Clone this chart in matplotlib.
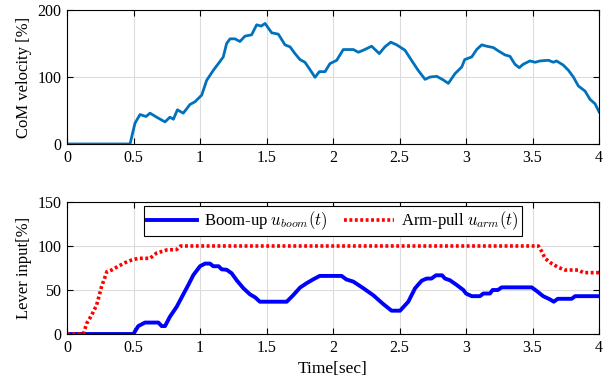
import numpy as np
import matplotlib
matplotlib.use('Agg')
import matplotlib.pyplot as plt

plt.rcParams['font.family'] = ['Liberation Serif', 'DejaVu Serif']
plt.rcParams['mathtext.fontset'] = 'cm'

# CoM velocity [%]
t_vel = [0.0, 0.474, 0.511, 0.549, 0.594, 0.624, 0.674, 0.737, 0.774, 0.80, 0.83, 0.874,
         0.925, 0.962, 1.013, 1.05, 1.10, 1.138, 1.175, 1.20, 1.226, 1.263, 1.30, 1.338,
         1.388, 1.426, 1.46, 1.489, 1.539, 1.589, 1.639, 1.677, 1.714, 1.752, 1.789, 1.827,
         1.865, 1.897, 1.94, 1.977, 2.028, 2.077, 2.153, 2.19, 2.228, 2.29, 2.348, 2.39,
         2.434, 2.479, 2.541, 2.59, 2.64, 2.692, 2.73, 2.78, 2.83, 2.867, 2.917, 2.968,
         2.99, 3.043, 3.08, 3.118, 3.155, 3.205, 3.243, 3.293, 3.33, 3.368, 3.40, 3.43,
         3.48, 3.52, 3.556, 3.62, 3.657, 3.68, 3.73, 3.77, 3.807, 3.845, 3.895, 3.932,
         3.97, 4.0]
vel = [0, 0, 31, 44, 41, 46, 40, 33, 40, 37, 51, 46,
       59, 63, 73, 95, 110, 120, 130, 150, 157, 157, 153, 161,
       163, 178, 176, 180, 166, 164, 148, 145, 135, 126, 122, 111,
       99.5, 108, 108, 120, 125, 141, 141, 137, 140, 146, 135, 145,
       152, 148, 140, 125, 110, 96.5, 100, 101, 95.5, 90.5, 105, 115,
       126, 130, 141, 148, 146, 144, 139, 133, 131, 119, 114, 119,
       124, 122, 124, 125, 122, 124, 118, 110, 100, 86.5, 79, 66.7,
       60, 48]

# Lever inputs [%]
t_boom = [0.0, 0.499, 0.536, 0.586, 0.687, 0.712, 0.737, 0.774, 0.825, 0.874, 0.912, 0.95,
          1.0, 1.038, 1.075, 1.10, 1.14, 1.163, 1.2, 1.238, 1.276, 1.326, 1.376, 1.414,
          1.45, 1.652, 1.70, 1.752, 1.80, 1.85, 1.90, 2.065, 2.10, 2.153, 2.228, 2.303,
          2.378, 2.44, 2.504, 2.566, 2.617, 2.667, 2.704, 2.74, 2.774, 2.82, 2.842, 2.88,
          2.93, 2.98, 3.0, 3.043, 3.105, 3.13, 3.18, 3.2, 3.24, 3.268, 3.494, 3.53,
          3.58, 3.63, 3.66, 3.69, 3.795, 3.82, 4.0]
boom = [0, 0, 9, 13, 13, 9, 9, 19.7, 31, 45, 55.7, 67,
        77, 80, 80, 77, 77, 73.5, 73, 69, 61, 52, 45, 41.7,
        36.7, 36.7, 44, 52.7, 57.6, 62, 66, 66, 62, 59.5, 52, 44,
        34, 26.5, 26.5, 36.7, 52, 60.6, 63, 63, 66.7, 66.7, 63, 61,
        55.7, 50, 46, 43, 43, 46, 46, 50, 50, 53, 53, 49,
        43, 39.4, 36.7, 40, 40, 43, 43]

t_arm = [0.0, 0.123, 0.148, 0.186, 0.223, 0.26, 0.30, 0.336, 0.386, 0.436, 0.486, 0.536,
         0.624, 0.674, 0.75, 0.825, 0.855, 3.544, 3.57, 3.594, 3.644, 3.694, 3.744, 3.845,
         3.882, 4.0]
arm = [0, 0, 12, 21.6, 33, 53.8, 70.8, 72.7, 77, 81, 84, 86,
       86, 92, 95.5, 96, 100, 100, 93.6, 86, 80, 75.7, 72.7, 72.7,
       69.7, 69.7]

xticks = [0, 0.5, 1, 1.5, 2, 2.5, 3, 3.5, 4]
xticklabels = ['0', '0.5', '1', '1.5', '2', '2.5', '3', '3.5', '4']

fig = plt.figure(figsize=(6.13, 3.86), dpi=100)
ax1 = fig.add_axes([0.1093, 0.627, 0.8679, 0.347])
ax2 = fig.add_axes([0.1093, 0.1347, 0.8679, 0.342])

ax1.plot(t_vel, vel, color='#0072BD', lw=2.0)
ax1.set_ylim(0, 200)
ax1.set_yticks([0, 100, 200])
ax1.set_ylabel('CoM velocity [%]', fontsize=12)

ax2.plot(t_boom, boom, color='#0000FF', lw=2.8, label=r'Boom-up $u_{boom}(t)$')
ax2.plot(t_arm, arm, color='#FF0000', lw=2.6, ls=(0, (0.8, 0.7)),
         label=r'Arm-pull $u_{arm}(t)$')
ax2.set_ylim(0, 150)
ax2.set_yticks([0, 50, 100, 150])
ax2.set_ylabel('Lever input[%]', fontsize=12)
ax2.set_xlabel('Time[sec]', fontsize=12.5, labelpad=4)
leg = ax2.legend(loc='upper center', ncol=2, fontsize=12, fancybox=False,
                 framealpha=1, edgecolor='black', borderpad=0.2, handlelength=3.0,
                 columnspacing=1.0, handletextpad=0.4, borderaxespad=0.25)
leg.get_frame().set_linewidth(0.8)

for ax in (ax1, ax2):
    ax.set_xlim(0, 4)
    ax.set_xticks(xticks)
    ax.set_xticklabels(xticklabels)
    ax.grid(True, color='#dcdcdc', lw=0.8)
    ax.set_axisbelow(True)
    ax.tick_params(direction='in', top=True, right=True, labelsize=11.5, length=4, pad=4)
    for s in ax.spines.values():
        s.set_linewidth(0.8)

fig.savefig('out.png', dpi=100)
